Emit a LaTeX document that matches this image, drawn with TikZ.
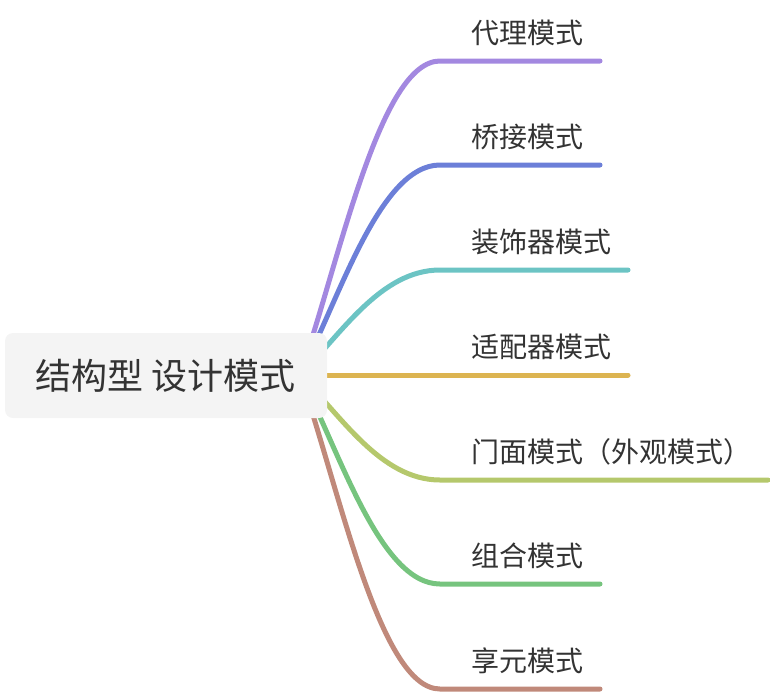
\documentclass[tikz,border=0pt]{standalone}
\usepackage{fontspec}
\newfontfamily\cjk{Noto Sans CJK SC}
\usetikzlibrary{positioning}
\definecolor{textc}{HTML}{333333}
\definecolor{rootc}{HTML}{F4F4F4}
\definecolor{proxyc}{HTML}{A388E0}
\definecolor{bridgec}{HTML}{6C7FD8}
\definecolor{decoc}{HTML}{6CC4C4}
\definecolor{adaptc}{HTML}{DCB451}
\definecolor{facadec}{HTML}{B5C86C}
\definecolor{compc}{HTML}{76C47E}
\definecolor{flyc}{HTML}{C0897A}

\begin{document}
\begin{tikzpicture}[x=1pt, y=-1pt,
	branch/.style={line width=5pt, line cap=round},
	leaf/.style={anchor=west, inner sep=0pt, text=textc, font=\cjk\fontsize{28}{32}\selectfont},
	rootbox/.style={fill=rootc, rounded corners=8pt, minimum width=322pt, minimum height=85pt, text=textc, font=\cjk\fontsize{36}{40}\selectfont}]
	\useasboundingbox (0,0) rectangle (770,694);
	\coordinate (hub) at (300,375);

	\coordinate (p1) at (440,61);
	\coordinate (e1) at (600,61);
	\node[leaf] (proxy) at (471,33) {代理模式};
	\draw[branch, proxyc] (hub) .. controls (340,259) and (380,61) .. (p1) -- (e1);

	\coordinate (p2) at (440,165);
	\coordinate (e2) at (600,165);
	\node[leaf] (bridge) at (471,137) {桥接模式};
	\draw[branch, bridgec] (hub) .. controls (340,297) and (380,165) .. (p2) -- (e2);

	\coordinate (p3) at (440,270);
	\coordinate (e3) at (628,270);
	\node[leaf] (deco) at (471,242) {装饰器模式};
	\draw[branch, decoc] (hub) .. controls (340,336) and (380,270) .. (p3) -- (e3);

	\coordinate (p4) at (440,375);
	\coordinate (e4) at (628,375);
	\node[leaf] (adapt) at (471,347) {适配器模式};
	\draw[branch, adaptc] (hub) -- (p4) -- (e4);

	\coordinate (p5) at (440,480);
	\coordinate (e5) at (768,480);
	\node[leaf] (facade) at (471,452) {门面模式（外观模式）};
	\draw[branch, facadec] (hub) .. controls (340,414) and (380,480) .. (p5) -- (e5);

	\coordinate (p6) at (440,584);
	\coordinate (e6) at (600,584);
	\node[leaf] (comp) at (471,556) {组合模式};
	\draw[branch, compc] (hub) .. controls (340,452) and (380,584) .. (p6) -- (e6);

	\coordinate (p7) at (440,689);
	\coordinate (e7) at (600,689);
	\node[leaf] (fly) at (471,661) {享元模式};
	\draw[branch, flyc] (hub) .. controls (340,491) and (380,689) .. (p7) -- (e7);

	% root on top of the branch ends
	\node[rootbox] (root) at (166,375.5) {结构型 设计模式};
\end{tikzpicture}
\end{document}
